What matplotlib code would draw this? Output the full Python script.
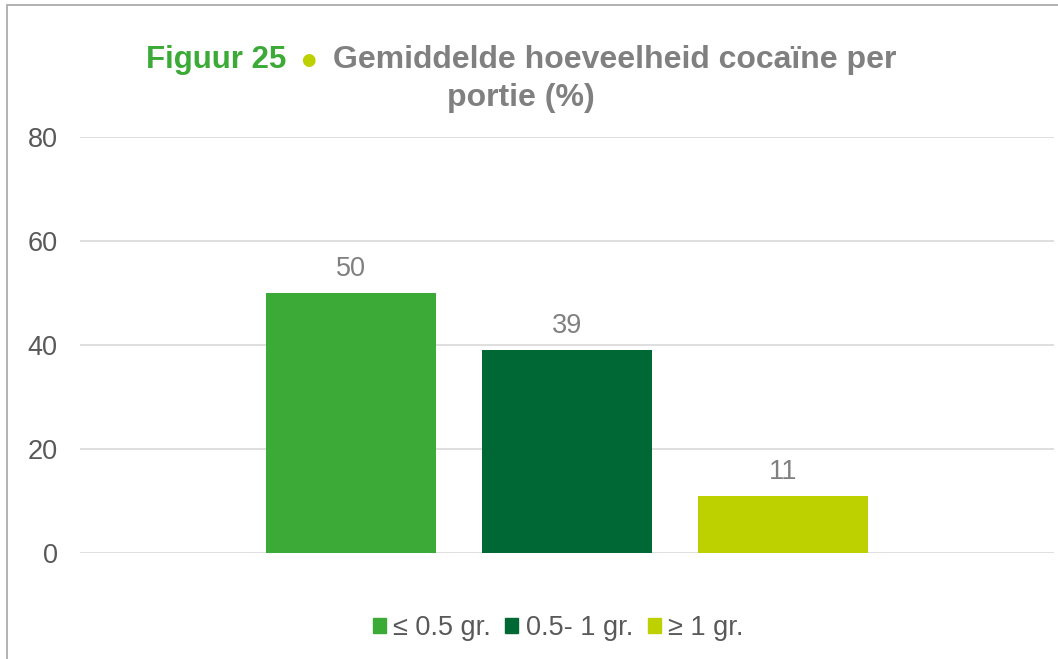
import matplotlib
matplotlib.use("Agg")
import matplotlib.pyplot as plt
from matplotlib.patches import Rectangle

plt.rcParams["font.family"] = ["Liberation Sans", "DejaVu Sans"]

# data
series = ["≤ 0.5 gr.", "0.5- 1 gr.", "≥ 1 gr."]
values = [50, 39, 11]
colors = ["#3CAA36", "#006834", "#BDD000"]
yticks = [0, 20, 40, 60, 80]

W, H = 1058, 659
fig = plt.figure(figsize=(W / 100, H / 100), dpi=100)
ax = fig.add_axes([80 / W, 1 - 553 / H, (1054 - 80) / W, (553 - 137) / H])

xs = range(len(values))
bars = ax.bar(xs, values, width=170 / 216, color=colors)
for b, v in zip(bars, values):
    ax.annotate(f"{v}", (b.get_x() + b.get_width() / 2, v), xytext=(0, 8),
                textcoords="offset points", ha="center", va="bottom",
                fontsize=19.5, color="#808080")

ax.set_xlim(1 - 487 / 216, 1 + 487 / 216)
ax.set_ylim(0, 80)
ax.set_yticks(yticks)
ax.set_xticks([])
ax.tick_params(axis="y", length=0, pad=16, labelsize=19.5, labelcolor="#595959")
ax.grid(axis="y", color="#D9D9D9", lw=1.2)
ax.set_axisbelow(True)
for s in ax.spines.values():
    s.set_visible(False)

# title (mixed colours on one line)
ty = 1 - 60 / H
fig.text(146 / W, ty, "Figuur 25", color="#3CAA36", fontsize=22.5, fontweight="bold",
         ha="left", va="center")
fig.text(308 / W, ty, "●", color="#BDD000", fontsize=12, ha="center", va="center",
         family=["DejaVu Sans"])
fig.text(333 / W, ty, "Gemiddelde hoeveelheid cocaïne per", color="#808080",
         fontsize=23, fontweight="bold", ha="left", va="center")
fig.text(521 / W, 1 - 98 / H, "portie (%)", color="#808080", fontsize=23,
         fontweight="bold", ha="center", va="center")

# legend
handles = [Rectangle((0, 0), 1, 1, color=c) for c in colors]
fig.legend(handles, series, loc="center", bbox_to_anchor=(558 / W, 1 - 628 / H),
           ncol=3, frameon=False, fontsize=19.5, labelcolor="#595959",
           handlelength=0.48, handleheight=0.48, handletextpad=0.26,
           columnspacing=0.55)

# chart border
fig.patches.append(Rectangle((7 / W, -0.1), 1.2, 1 - 5 / H + 0.1, transform=fig.transFigure,
                             fill=False, edgecolor="#A6A6A6", lw=1.2))

fig.savefig("out.png", dpi=100)
